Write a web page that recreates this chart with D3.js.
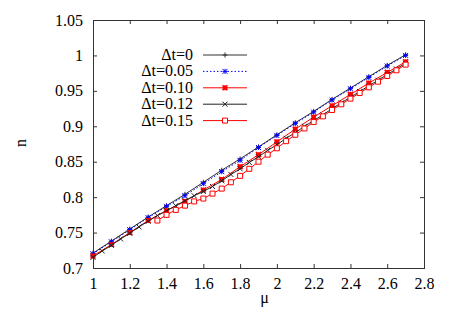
<!DOCTYPE html>
<html>
<head>
<meta charset="utf-8">
<script src="https://cdn.jsdelivr.net/npm/d3@7"></script>
<style>
  html, body { margin: 0; padding: 0; background: #fff; }
  svg { display: block; }
  text { font-family: "Liberation Serif", "Times New Roman", Times, "DejaVu Serif", serif; }
</style>
</head>
<body>
<svg id="chart" width="452" height="317"></svg>
<script>
// ---- data ----
const xTicks = [1, 1.2, 1.4, 1.6, 1.8, 2, 2.2, 2.4, 2.6, 2.8];
const xTickLabels = ["1", "1.2", "1.4", "1.6", "1.8", "2", "2.2", "2.4", "2.6", "2.8"];
const yTicks = [0.7, 0.75, 0.8, 0.85, 0.9, 0.95, 1, 1.05];
const yTickLabels = ["0.7", "0.75", "0.8", "0.85", "0.9", "0.95", "1", "1.05"];

const muCoarse = [1.0, 1.1, 1.2, 1.3, 1.4, 1.5, 1.6, 1.7, 1.8, 1.9, 2.0, 2.1, 2.2, 2.3, 2.4, 2.5, 2.6, 2.7];
const muFine = [1.0, 1.05, 1.1, 1.15, 1.2, 1.25, 1.3, 1.35, 1.4, 1.45, 1.5, 1.55, 1.6, 1.65, 1.7, 1.75, 1.8, 1.85,
  1.9, 1.95, 2.0, 2.05, 2.1, 2.15, 2.2, 2.25, 2.3, 2.35, 2.4, 2.45, 2.5, 2.55, 2.6, 2.65, 2.7];
const muFine15 = [1.35, 1.4, 1.45, 1.5, 1.55, 1.6, 1.65, 1.7, 1.75, 1.8, 1.85, 1.9, 1.95, 2.0, 2.05, 2.1, 2.15, 2.2,
  2.25, 2.3, 2.35, 2.4, 2.45, 2.5, 2.55, 2.6, 2.65, 2.7];

const nDt0 = [0.721, 0.738, 0.755, 0.772, 0.788, 0.804, 0.821, 0.838, 0.854, 0.871, 0.888, 0.905, 0.921, 0.938, 0.954, 0.970, 0.986, 1.001];
const nDt005 = [0.720, 0.737, 0.754, 0.771, 0.787, 0.802, 0.819, 0.836, 0.852, 0.870, 0.887, 0.904, 0.920, 0.937, 0.953, 0.969, 0.985, 1.000];
const nDt010 = [0.717, 0.733, 0.750, 0.767, 0.781, 0.794, 0.810, 0.825, 0.843, 0.860, 0.878, 0.896, 0.913, 0.929, 0.945, 0.961, 0.976, 0.991];
const nDt012 = [0.715, 0.724, 0.732, 0.741, 0.749, 0.758, 0.766, 0.774, 0.781, 0.788, 0.795, 0.802, 0.808, 0.815, 0.823, 0.832, 0.840, 0.849,
  0.857, 0.866, 0.874, 0.883, 0.891, 0.900, 0.908, 0.916, 0.925, 0.933, 0.941, 0.949, 0.957, 0.965, 0.973, 0.981, 0.989];
const nDt015 = [0.767, 0.775, 0.782, 0.788, 0.794, 0.798, 0.805, 0.812, 0.821, 0.830, 0.840, 0.850, 0.860, 0.869, 0.879, 0.888, 0.897, 0.906,
  0.914, 0.923, 0.931, 0.939, 0.947, 0.955, 0.963, 0.971, 0.979, 0.987];

const seriesNames = ["\u0394t=0", "\u0394t=0.05", "\u0394t=0.10", "\u0394t=0.12", "\u0394t=0.15"];

const series = [
  { name: seriesNames[0], x: muCoarse, y: nDt0, color: "#333", dash: null, marker: "plus" },
  { name: seriesNames[1], x: muCoarse, y: nDt005, color: "#0000ff", dash: "1.5,2", marker: "star" },
  { name: seriesNames[2], x: muCoarse, y: nDt010, color: "#ff0000", dash: null, marker: "starFill" },
  { name: seriesNames[3], x: muFine, y: nDt012, color: "#222", dash: null, marker: "cross" },
  { name: seriesNames[4], x: muFine15, y: nDt015, color: "#ff0000", dash: null, marker: "square" }
];

// ---- layout ----
const svg = d3.select("#chart");
const L = 93, R = 424, T = 20, B = 268;
const x = d3.scaleLinear().domain([1, 2.8]).range([L, R]);
const y = d3.scaleLinear().domain([0.7, 1.05]).range([B, T]);
const fontSize = 16;
const fontFam = "'Liberation Serif', 'Times New Roman', Times, 'DejaVu Serif', serif";
const tickLen = 4;

const axisColor = "#333";
const gAxes = svg.append("g");

gAxes.append("g").attr("transform", `translate(0,${B})`)
  .call(d3.axisBottom(x).tickValues(xTicks).tickFormat((d, i) => xTickLabels[i]).tickSize(-tickLen).tickPadding(10));
gAxes.append("g").attr("transform", `translate(0,${T})`)
  .call(d3.axisTop(x).tickValues(xTicks).tickFormat("").tickSize(-tickLen));
gAxes.append("g").attr("transform", `translate(${L},0)`)
  .call(d3.axisLeft(y).tickValues(yTicks).tickFormat((d, i) => yTickLabels[i]).tickSize(-tickLen).tickPadding(10));
gAxes.append("g").attr("transform", `translate(${R},0)`)
  .call(d3.axisRight(y).tickValues(yTicks).tickFormat("").tickSize(-tickLen));

gAxes.selectAll(".domain").remove();
gAxes.selectAll(".tick line").attr("stroke", axisColor);
gAxes.selectAll(".tick text").attr("font-size", fontSize).attr("fill", "#000")
  .attr("font-family", fontFam);

// frame
svg.append("rect").attr("x", L).attr("y", T).attr("width", R - L).attr("height", B - T)
  .attr("fill", "none").attr("stroke", axisColor).attr("stroke-width", 1).attr("shape-rendering", "crispEdges");

// axis labels
svg.append("text").attr("x", (L + R) / 2 + 6).attr("y", 303).attr("text-anchor", "middle")
  .attr("font-size", fontSize).attr("font-family", fontFam).text("\u03bc");
svg.append("text").attr("transform", `translate(26,${(T + B) / 2 - 1}) rotate(-90)`)
  .attr("text-anchor", "middle").attr("font-size", fontSize).attr("font-family", fontFam).text("n");

function markerPath(type, cx, cy, s) {
  const h = s / 2;
  switch (type) {
    case "plus":
      return `M${cx - h},${cy}H${cx + h}M${cx},${cy - h}V${cy + h}`;
    case "cross":
      return `M${cx - h},${cy - h}L${cx + h},${cy + h}M${cx - h},${cy + h}L${cx + h},${cy - h}`;
    case "star":
    case "starFill":
      return `M${cx - h},${cy}H${cx + h}M${cx},${cy - h}V${cy + h}` +
             `M${cx - h},${cy - h}L${cx + h},${cy + h}M${cx - h},${cy + h}L${cx + h},${cy - h}`;
    case "square":
      return `M${cx - h},${cy - h}H${cx + h}V${cy + h}H${cx - h}Z`;
  }
}

const line = d3.line().x(d => x(d[0])).y(d => y(d[1]));
const plot = svg.append("g");

series.forEach(s => {
  const pts = s.x.map((v, i) => [v, s.y[i]]);
  const p = plot.append("path").datum(pts).attr("d", line)
    .attr("fill", "none").attr("stroke", s.color).attr("stroke-width", 1);
  if (s.dash) p.attr("stroke-dasharray", s.dash);
  plot.append("g").selectAll("path").data(pts).join("path")
    .attr("d", d => markerPath(s.marker, x(d[0]), y(d[1]), 5))
    .attr("fill", s.marker === "square" ? "#fff" : "none")
    .attr("stroke", s.color)
    .attr("stroke-width", s.marker === "starFill" ? 1.6 : 1);
});

// legend
const legX = 193, legLine0 = 203, legLine1 = 247, legY0 = 55, legDy = 16.4;
const leg = svg.append("g");
series.forEach((s, i) => {
  const cy = legY0 + i * legDy;
  leg.append("text").attr("x", legX).attr("y", cy + 5).attr("text-anchor", "end")
    .attr("font-size", fontSize).attr("font-family", fontFam).text(s.name);
  const l = leg.append("line").attr("x1", legLine0).attr("x2", legLine1).attr("y1", cy).attr("y2", cy)
    .attr("stroke", s.color).attr("stroke-width", 1);
  if (s.dash) l.attr("stroke-dasharray", s.dash);
  leg.append("path").attr("d", markerPath(s.marker, (legLine0 + legLine1) / 2, cy, 5))
    .attr("fill", s.marker === "square" ? "#fff" : "none")
    .attr("stroke", s.color).attr("stroke-width", s.marker === "starFill" ? 1.6 : 1);
});
</script>
</body>
</html>
